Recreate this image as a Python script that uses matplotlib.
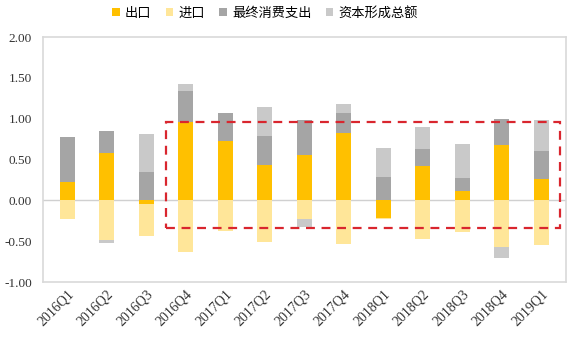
import numpy as np
import matplotlib
matplotlib.use('Agg')
import matplotlib.pyplot as plt
from matplotlib.patches import Rectangle

quarters = ['2016Q1', '2016Q2', '2016Q3', '2016Q4', '2017Q1', '2017Q2', '2017Q3',
            '2017Q4', '2018Q1', '2018Q2', '2018Q3', '2018Q4', '2019Q1']
export = [0.22, 0.58, -0.05, 0.96, 0.73, 0.43, 0.56, 0.83, -0.21, 0.42, 0.12, 0.68, 0.26]
imports = [-0.23, -0.49, -0.39, -0.63, -0.38, -0.51, -0.23, -0.53, -0.02, -0.47, -0.39, -0.57, -0.54]
consumption = [0.56, 0.27, 0.35, 0.38, 0.34, 0.36, 0.43, 0.24, 0.29, 0.21, 0.16, 0.32, 0.35]
capital = [0.0, -0.03, 0.46, 0.09, 0.0, 0.35, -0.09, 0.11, 0.35, 0.27, 0.41, -0.13, 0.37]
series_names = ['出口', '进口', '最终消费支出', '资本形成总额']
ytick_vals = [-1.0, -0.5, 0.0, 0.5, 1.0, 1.5, 2.0]

# highlight box (category index / value range)
box_x = (2.5, 12.48)
box_y = (-0.34, 0.96)

colors = ['#FFC000', '#FFE699', '#A5A5A5', '#C9C9C9']
fonts = ['Liberation Serif', 'Noto Sans CJK SC']

fig = plt.figure(figsize=(5.69, 3.37), dpi=100)
ax = fig.add_axes([0.0756, 0.163, 0.919, 0.727])

x = np.arange(len(quarters))
pos_bottom = np.zeros(len(quarters))
neg_bottom = np.zeros(len(quarters))
for vals, name, c in zip([export, imports, consumption, capital], series_names, colors):
    v = np.array(vals)
    bottom = np.where(v >= 0, pos_bottom, neg_bottom)
    ax.bar(x, v, width=0.38, bottom=bottom, color=c, label=name, zorder=3)
    pos_bottom += np.where(v >= 0, v, 0)
    neg_bottom += np.where(v < 0, v, 0)

ax.axhline(0, color='#d0d0d0', linewidth=1, zorder=2)

ax.add_patch(Rectangle((box_x[0], box_y[0]), box_x[1] - box_x[0], box_y[1] - box_y[0],
                       fill=False, edgecolor='#D9262E', linestyle=(0, (4, 3)),
                       linewidth=1.6, zorder=5))

ax.set_xlim(-0.61, 12.63)
ax.set_ylim(-1.0, 2.0)
ax.set_yticks(ytick_vals)
ax.set_yticklabels(['%.2f' % t for t in ytick_vals], family=fonts, fontsize=9.5, color='#333333')
ax.set_xticks(x)
ax.set_xticklabels(quarters, rotation=45, ha='right', rotation_mode='anchor',
                   family=fonts, fontsize=10, color='#333333')
ax.tick_params(axis='both', length=0)
ax.tick_params(axis='y', pad=8)
ax.tick_params(axis='x', pad=4)

for s in ax.spines.values():
    s.set_color('#d9d9d9')
    s.set_linewidth(1.2)

fig.legend(loc='center', bbox_to_anchor=(0.466, 0.961), ncol=4, frameon=False,
           handlelength=0.55, handleheight=0.55, handletextpad=0.4, columnspacing=1.1,
           prop={'family': fonts, 'size': 9.5})

fig.savefig('out.png', dpi=100, facecolor='white')
